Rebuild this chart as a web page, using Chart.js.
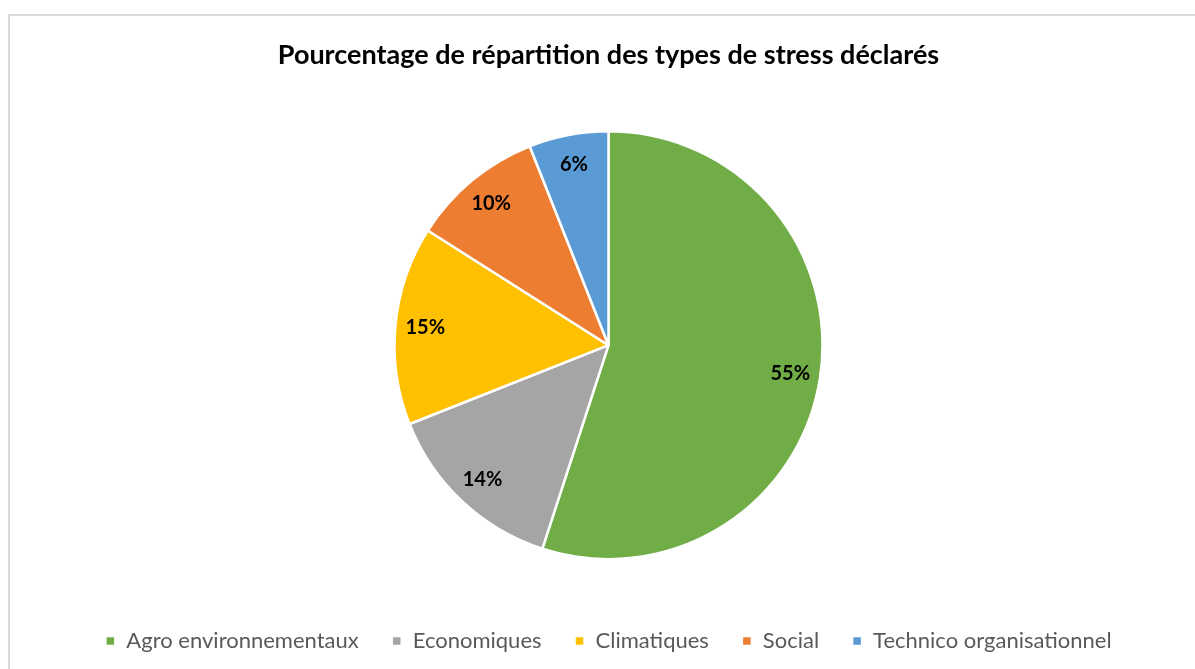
<!DOCTYPE html>
<html>
<head>
<meta charset="utf-8">
<script src="https://cdn.jsdelivr.net/npm/chart.js@4.4.0/dist/chart.umd.min.js"></script>
<style>
  html, body { margin: 0; padding: 0; background: #fff; }
  #wrap { position: relative; width: 1195px; height: 669px; overflow: hidden; }
  #frame { position: absolute; left: 8px; top: 14px; width: 1300px; height: 700px; border: 2px solid #d9d9d9; box-sizing: border-box; }
  #c { position: absolute; left: 0; top: 0; }
</style>
</head>
<body>
<div id="wrap">
  <div id="frame"></div>
  <canvas id="c" width="1195" height="669"></canvas>
</div>
<script>
// stress types and their share (%)
var categories = ['Agro environnementaux', 'Economiques', 'Climatiques', 'Social', 'Technico organisationnel'];
var shares = [55, 14, 15, 10, 6];
var sliceColors = ['#70AD47', '#A5A5A5', '#FFC000', '#ED7D31', '#5B9BD5'];
var chartTitle = 'Pourcentage de répartition des types de stress déclarés';

// labels drawn inside each slice, Excel style
var sliceLabels = {
    id: 'sliceLabels',
    afterDatasetsDraw(chart) {
        var ctx = chart.ctx;
        var meta = chart.getDatasetMeta(0);
        ctx.save();
        ctx.font = 'bold 20px Lato';
        ctx.fillStyle = '#000';
        ctx.textAlign = 'center';
        ctx.textBaseline = 'middle';
        meta.data.forEach(function(arc, i) {
            var p = arc.getProps(['x', 'y', 'startAngle', 'endAngle', 'outerRadius']);
            var mid = (p.startAngle + p.endAngle) / 2;
            var r = p.outerRadius * 0.86;
            ctx.fillText(shares[i] + '%', p.x + Math.cos(mid) * r, p.y + Math.sin(mid) * r);
        });
        ctx.restore();
    }
};

var ctx = document.getElementById('c').getContext('2d');
var chart = new Chart(ctx, {
    type: 'pie',
    data: {
        labels: categories,
        datasets: [{
            data: shares,
            backgroundColor: sliceColors,
            borderColor: '#ffffff',
            borderWidth: 2.5,
            radius: 214
        }]
    },
    options: {
        responsive: false,
        animation: false,
        layout: { padding: { left: 22, top: 0, bottom: 7 } },
        plugins: {
            title: {
                display: true,
                text: chartTitle,
                color: '#000',
                font: { family: 'Lato', size: 27, weight: 'bold' },
                padding: { top: 39, bottom: 22 }
            },
            legend: {
                position: 'bottom',
                labels: {
                    color: '#595959',
                    font: { family: 'Lato', size: 22 },
                    boxWidth: 10,
                    boxHeight: 10,
                    padding: 33
                }
            },
            tooltip: { enabled: false }
        }
    },
    plugins: [sliceLabels]
});
</script>
</body>
</html>
